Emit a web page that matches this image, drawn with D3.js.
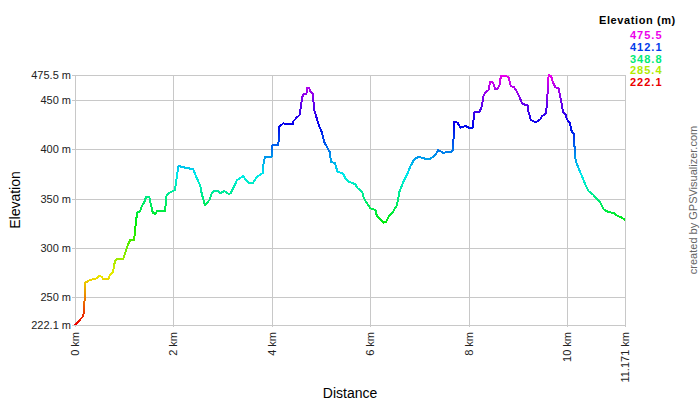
<!DOCTYPE html>
<html>
<head>
<meta charset="utf-8">
<script src="https://cdn.jsdelivr.net/npm/d3@7"></script>
<style>
  body { margin: 0; background: #fff; }
  text { font-family: "Liberation Sans", Arial, sans-serif; }
</style>
</head>
<body>
<div id="chart"></div>
<script>
// track profile: distance (km) and elevation (m)
const distKm = [0, 0.17, 0.2, 0.21, 0.3, 0.44, 0.49, 0.54, 0.58, 0.68, 0.71, 0.77, 0.81, 0.85, 0.98, 1.02, 1.06, 1.12, 1.2, 1.22, 1.24, 1.27, 1.32, 1.36, 1.4, 1.44, 1.51, 1.54, 1.58, 1.63, 1.67, 1.83, 1.86, 1.92, 2.03, 2.07, 2.1, 2.2, 2.3, 2.4, 2.46, 2.54, 2.58, 2.64, 2.73, 2.78, 2.83, 2.91, 2.95, 3.03, 3.12, 3.16, 3.22, 3.29, 3.35, 3.42, 3.47, 3.54, 3.61, 3.69, 3.77, 3.81, 3.83, 3.86, 4.0, 4.01, 4.13, 4.15, 4.23, 4.34, 4.42, 4.44, 4.51, 4.56, 4.59, 4.61, 4.64, 4.7, 4.71, 4.76, 4.78, 4.83, 4.86, 4.91, 4.95, 5.01, 5.06, 5.12, 5.17, 5.2, 5.28, 5.33, 5.44, 5.49, 5.55, 5.69, 5.74, 5.83, 5.87, 5.93, 6.0, 6.1, 6.13, 6.2, 6.27, 6.32, 6.37, 6.46, 6.54, 6.59, 6.67, 6.74, 6.81, 6.89, 6.98, 7.11, 7.22, 7.32, 7.38, 7.49, 7.55, 7.64, 7.68, 7.7, 7.77, 7.83, 7.93, 8.0, 8.08, 8.11, 8.22, 8.27, 8.29, 8.33, 8.4, 8.43, 8.49, 8.54, 8.57, 8.62, 8.65, 8.74, 8.81, 8.85, 8.92, 8.98, 9.03, 9.08, 9.15, 9.19, 9.21, 9.26, 9.33, 9.38, 9.45, 9.49, 9.57, 9.6, 9.62, 9.67, 9.71, 9.76, 9.82, 9.87, 9.91, 9.96, 9.99, 10.05, 10.09, 10.13, 10.15, 10.17, 10.23, 10.3, 10.37, 10.43, 10.53, 10.6, 10.67, 10.74, 10.84, 10.94, 11.01, 11.11, 11.171];
const elevM = [222.1, 231.2, 250.8, 265, 267.7, 269.4, 271.8, 271, 268.4, 268.4, 272.8, 276, 286.3, 289, 289, 294.8, 301.5, 308.3, 308.3, 316.7, 328.5, 336.3, 337, 343, 345.5, 351.5, 351.5, 344.7, 336, 334.6, 338, 338, 353.9, 356.2, 358.9, 372.4, 383.3, 382, 380.9, 380.2, 372.4, 364, 353.9, 343.7, 348.8, 355.6, 357.9, 357.9, 355.6, 357.9, 354.9, 355.6, 361.3, 369, 370.8, 373.1, 369, 365.7, 365.7, 371.8, 374.8, 375.9, 386, 392.7, 392.7, 404.5, 404.5, 423.1, 426.5, 425.5, 425.5, 428.9, 432.6, 434.9, 443.4, 452.5, 455.9, 455.9, 462, 462, 458.6, 456.2, 440, 431.6, 424.8, 418, 407.9, 402.2, 397.8, 387.6, 386, 377.5, 375.9, 370.8, 367.4, 365, 360.7, 357.2, 350.5, 345.5, 340.4, 338.7, 332.9, 329.2, 325.8, 326.8, 331.9, 337, 343.7, 357.2, 367.4, 374.1, 382.6, 390, 392.7, 390.7, 390.7, 394.4, 399.5, 396.1, 397.8, 397.8, 399.5, 428.2, 427.2, 422.1, 423.8, 422.1, 422.1, 437.7, 438.3, 445.1, 453.5, 457.6, 460.3, 468.7, 467.7, 461, 461, 464.4, 474.5, 474.8, 473.2, 464.4, 463, 458, 452.9, 446.8, 445.1, 445.1, 438.3, 429.9, 428.2, 428.2, 430.6, 434, 436.7, 458.6, 475.5, 474.5, 467.7, 463, 462, 450.2, 438.3, 436, 430.6, 427.2, 418, 415.7, 399.5, 388.6, 380.9, 372.4, 364, 357.9, 353.9, 349.5, 346.1, 339.4, 336.3, 335.9, 332.9, 330.9, 328.5];

const yTicks = [222.1, 250, 300, 350, 400, 450, 475.5];
const xTicks = [0, 2, 4, 6, 8, 10, 11.171];
const legendValues = [475.5, 412.1, 348.8, 285.4, 222.1];

const width = 700, height = 400;
const margin = ({top: 75, right: 75, bottom: 75, left: 75});
const minE = 222.1, maxE = 475.5, totalKm = 11.171;

// hue goes red -> magenta with elevation
function elevColor(e) {
    let h = 300 * (e - minE) / (maxE - minE);
    return d3.hsl(h, 1, 0.46).formatHex();
}

const svg = d3.select('#chart').append('svg')
    .attr('width', width)
    .attr('height', height);

const x = d3.scaleLinear().domain([0, totalKm]).range([margin.left, width - margin.right]);
const y = d3.scaleLinear().domain([minE, maxE]).range([height - margin.bottom, margin.top]);

// vertical gradient so the stroke colour follows elevation
const grad = svg.append('defs').append('linearGradient')
    .attr('id', 'elevGrad')
    .attr('gradientUnits', 'userSpaceOnUse')
    .attr('x1', 0).attr('x2', 0)
    .attr('y1', y(minE)).attr('y2', y(maxE));
grad.selectAll('stop')
    .data(d3.range(0, 1.0001, 0.05))
    .join('stop')
    .attr('offset', d => d)
    .attr('stop-color', d => elevColor(minE + d * (maxE - minE)));

const gridColor = '#c8c8c8';

// horizontal grid + ticks
svg.append('g')
    .selectAll('line')
    .data(yTicks)
    .join('line')
    .attr('x1', margin.left - 3)
    .attr('x2', width - margin.right)
    .attr('y1', d => Math.round(y(d)) + 0.5)
    .attr('y2', d => Math.round(y(d)) + 0.5)
    .attr('stroke', gridColor);

// vertical grid
svg.append('g')
    .selectAll('line')
    .data(xTicks)
    .join('line')
    .attr('x1', d => Math.round(x(d)) + 0.5)
    .attr('x2', d => Math.round(x(d)) + 0.5)
    .attr('y1', margin.top)
    .attr('y2', height - margin.bottom + 2)
    .attr('stroke', gridColor);

svg.append('g')
    .selectAll('text')
    .data(yTicks)
    .join('text')
    .attr('x', margin.left - 4)
    .attr('y', d => y(d) + 4)
    .attr('text-anchor', 'end')
    .attr('font-size', 11)
    .attr('fill', '#222')
    .text(d => d + ' m');

svg.append('g')
    .selectAll('text')
    .data(xTicks)
    .join('text')
    .attr('transform', d => 'translate(' + (x(d) + 4) + ',' + (height - margin.bottom + 7) + ') rotate(-90)')
    .attr('text-anchor', 'end')
    .attr('font-size', 11)
    .attr('fill', '#222')
    .text(d => d + ' km');

svg.append('text')
    .attr('transform', 'translate(20,200) rotate(-90)')
    .attr('text-anchor', 'middle')
    .attr('font-size', 14)
    .text('Elevation');

svg.append('text')
    .attr('x', (margin.left + width - margin.right) / 2)
    .attr('y', 398)
    .attr('text-anchor', 'middle')
    .attr('font-size', 14)
    .text('Distance');

svg.append('text')
    .attr('transform', 'translate(697,200) rotate(-90)')
    .attr('text-anchor', 'middle')
    .attr('font-size', 11)
    .attr('fill', '#666')
    .text('created by GPSVisualizer.com');

// legend
svg.append('text')
    .attr('x', 599)
    .attr('y', 24)
    .attr('font-size', 11)
    .attr('font-weight', 'bold')
    .attr('letter-spacing', 0.6)
    .text('Elevation (m)');

svg.append('g')
    .selectAll('text')
    .data(legendValues)
    .join('text')
    .attr('x', 630)
    .attr('y', (d, i) => 39 + i * 11.8)
    .attr('font-size', 11)
    .attr('font-weight', 'bold')
    .attr('letter-spacing', 1)
    .attr('fill', d => elevColor(d))
    .text(d => d.toFixed(1));

// profile line, stepped look like the original gps trace
const pts = distKm.map((d, i) => [d, elevM[i]]);
const line = d3.line()
    .x(d => x(d[0]))
    .y(d => y(d[1]));

svg.append('path')
    .datum(pts)
    .attr('d', line)
    .attr('fill', 'none')
    .attr('stroke', 'url(#elevGrad)')
    .attr('stroke-width', 2)
    .attr('stroke-linejoin', 'round')
    .attr('shape-rendering', 'crispEdges');
</script>
</body>
</html>
